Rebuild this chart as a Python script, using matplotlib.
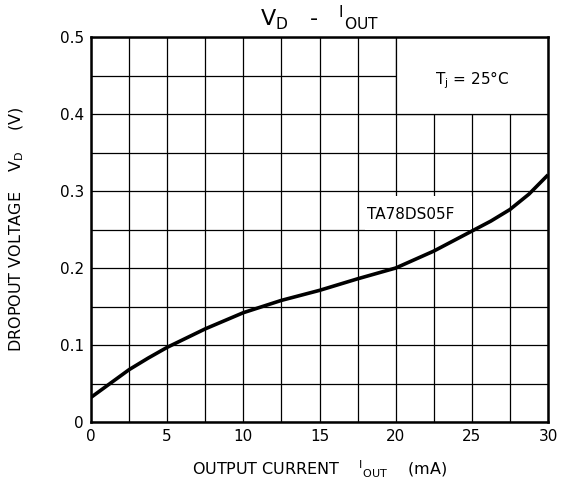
import matplotlib
matplotlib.use('Agg')
import matplotlib.pyplot as plt
from matplotlib.patches import Rectangle
from matplotlib.ticker import MultipleLocator

# 読み取り値 (VD - IOUT, TA78DS05F)
i_out = [0, 1.25, 2.5, 3.75, 5, 7.5, 10, 12.5, 15, 17.5, 20, 22.5, 25, 26.25, 27.5,
         28.75, 30]
v_drop = [0.032, 0.050, 0.068, 0.083, 0.097, 0.121, 0.142, 0.158, 0.171, 0.186,
          0.200, 0.222, 0.248, 0.261, 0.276, 0.296, 0.321]

x_ticks = [0, 5, 10, 15, 20, 25, 30]
y_ticks = [0, 0.1, 0.2, 0.3, 0.4, 0.5]
y_ticklabels = ['0', '0.1', '0.2', '0.3', '0.4', '0.5']

plt.rcParams['font.family'] = ['DejaVu Sans']
plt.rcParams['mathtext.fontset'] = 'dejavusans'

fig = plt.figure(figsize=(5.67, 4.91), dpi=100)
ax = fig.add_axes([0.1605, 0.1405, 0.806, 0.784])

ax.set_xlim(0, 30)
ax.set_ylim(0, 0.5)
ax.set_xticks(x_ticks)
ax.set_yticks(y_ticks)
ax.set_yticklabels(y_ticklabels)
ax.xaxis.set_minor_locator(MultipleLocator(2.5))
ax.yaxis.set_minor_locator(MultipleLocator(0.05))
ax.grid(which='both', color='black', linewidth=0.9)
ax.set_axisbelow(True)
ax.tick_params(which='both', length=0)
ax.tick_params(axis='x', pad=5, labelsize=11)
ax.tick_params(axis='y', pad=5, labelsize=11)
for sp in ax.spines.values():
    sp.set_linewidth(1.8)

# 注記用の白抜き領域
ax.add_patch(Rectangle((20, 0.4), 10, 0.1, facecolor='white', edgecolor='black',
                       linewidth=0.9, zorder=1.5))
ax.add_patch(Rectangle((18, 0.25), 7, 0.043, facecolor='white', edgecolor='none',
                       zorder=1.5))

ax.plot(i_out, v_drop, color='black', linewidth=2.6, zorder=3, solid_capstyle='butt')

ax.text(25, 0.444, r'T$_\mathregular{j}$ = 25°C', ha='center', va='center', fontsize=11, zorder=4)
ax.text(18.1, 0.269, 'TA78DS05F', ha='left', va='center', fontsize=11, zorder=4)

ax.set_title(r'V$_\mathregular{D}$   -   $^\mathregular{I}$$_\mathregular{OUT}$', fontsize=16, pad=8)
ax.set_xlabel(r'OUTPUT CURRENT    $^\mathregular{I}$$_\mathregular{OUT}$    (mA)',
              fontsize=11.5, labelpad=11)
ax.set_ylabel(r'DROPOUT VOLTAGE    V$_\mathregular{D}$    (V)', fontsize=11.5, labelpad=24)

plt.savefig('out.png', dpi=100)
